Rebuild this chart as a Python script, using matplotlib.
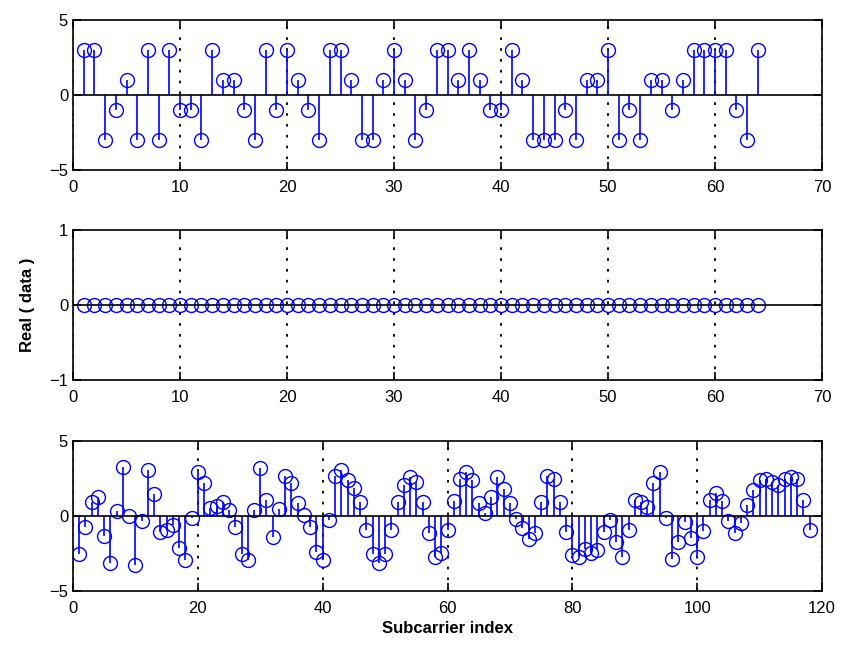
import numpy as np
import matplotlib
matplotlib.use('Agg')
import matplotlib.pyplot as plt

# QAM symbols (real part) on 64 subcarriers
qam_real = [3, 3, -3, -1, 1, -3, 3, -3, 3, -1,
            -1, -3, 3, 1, 1, -1, -3, 3, -1, 3,
            1, -1, -3, 3, 3, 1, -3, -3, 1, 3,
            1, -3, -1, 3, 3, 1, 3, 1, -1, -1,
            3, 1, -3, -3, -3, -1, -3, 1, 1, 3,
            -3, -1, -3, 1, 1, -1, 1, 3, 3, 3,
            3, -1, -3, 3]

# middle panel: all zeros
zero_real = [0] * 64

# bottom panel values (118 subcarriers)
mod_real = [-2.5, -0.7, 0.95, 1.3, -1.3, -3.1, 0.35, 3.3, 0.0, -3.25,
            -0.3, 3.1, 1.5, -1.05, -0.9, -0.6, -2.1, -2.9, -0.1, 2.95,
            2.2, 0.55, 0.65, 0.95, 0.4, -0.7, -2.5, -2.9, 0.4, 3.2,
            1.05, -1.4, 0.45, 2.7, 2.2, 0.85, 0.1, -0.7, -2.4, -2.9,
            -0.25, 2.7, 3.1, 2.4, 1.85, 0.95, -0.9, -2.5, -3.1, -2.5,
            -0.95, 0.95, 2.1, 2.6, 2.3, 0.95, -1.1, -2.7, -2.45, -0.9,
            1.0, 2.5, 2.95, 2.4, 0.9, 0.2, 1.3, 2.6, 1.8, 0.85,
            -0.2, -0.8, -1.5, -1.1, 0.95, 2.7, 2.45, 0.95, -1.05, -2.6,
            -2.7, -2.2, -2.45, -2.25, -1.05, -0.25, -1.7, -2.7, -0.9, 1.1,
            0.95, 0.6, 2.2, 2.95, -0.1, -2.85, -1.7, -0.4, -1.45, -2.7,
            -1.0, 1.05, 1.55, 1.0, -0.3, -1.1, -0.45, 0.75, 1.75, 2.4,
            2.5, 2.3, 2.05, 2.45, 2.6, 2.5, 1.05, -0.95]

plt.rcParams['font.family'] = ['Liberation Sans', 'DejaVu Sans']
plt.rcParams['font.size'] = 12

fig = plt.figure(figsize=(8.41, 6.48), dpi=100)
left, width, height = 73 / 841, 749 / 841, 150 / 648
ax1 = fig.add_axes([left, 1 - 170 / 648, width, height])
ax2 = fig.add_axes([left, 1 - 380 / 648, width, height])
ax3 = fig.add_axes([left, 1 - 591 / 648, width, height])


def stem_panel(ax, vals, xmax, xstep, ylim, yticks):
    n = np.arange(1, len(vals) + 1)
    ml, sl, bl = ax.stem(n, vals, linefmt='b-', markerfmt='bo', basefmt='k-')
    ml.set_markerfacecolor('none')
    ml.set_markersize(10)
    ml.set_markeredgewidth(1.0)
    sl.set_linewidth(1.2)
    bl.set_xdata([0, xmax])
    bl.set_linewidth(1.2)
    ax.set_xlim(0, xmax)
    ax.set_ylim(*ylim)
    ax.set_xticks(np.arange(0, xmax + 1, xstep))
    ax.set_yticks(yticks)
    # dotted vertical grid like matlab "grid on" (x only)
    ax.xaxis.grid(True, linestyle=(0, (1.5, 4.5)), color='k', linewidth=1.3)
    ax.tick_params(direction='in', top=True, right=True, length=6, width=1.2)
    ax.tick_params(axis='x', pad=7)
    for s in ax.spines.values():
        s.set_linewidth(1.2)


stem_panel(ax1, qam_real, 70, 10, (-5, 5), [-5, 0, 5])
stem_panel(ax2, zero_real, 70, 10, (-1, 1), [-1, 0, 1])
stem_panel(ax3, mod_real, 120, 20, (-5, 5), [-5, 0, 5])

ax2.set_ylabel('Real ( data )', fontweight='bold', labelpad=10)
ax3.set_xlabel('Subcarrier index', fontweight='bold', labelpad=4)

fig.savefig('out.png', dpi=100)
